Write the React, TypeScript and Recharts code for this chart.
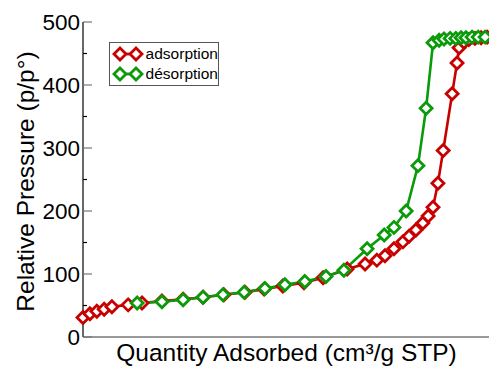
import { LineChart, Line, XAxis, YAxis, Legend, Label } from "recharts";

// x: position along the (unlabelled) quantity axis, 0-100
const adsX = [0, 1.7, 3.4, 5.2, 7.1, 11.1, 14.5, 19.4, 24.6, 29.5, 34.6, 39.8, 44.5, 49.1, 54.3, 59.0, 64.9, 69.3, 72.2, 74.2, 76.4, 78.6, 80.1, 81.8, 83.5, 84.8, 86.0, 87.2, 88.5, 90.7, 91.9, 92.4, 93.6, 94.8, 96.3, 97.8, 99.3];
const adsY = [31, 37, 41, 44, 48, 51, 54, 57, 60, 63, 67, 71, 76, 81, 86, 94, 108, 116, 122, 129, 140, 151, 160, 170, 181, 192, 206, 244, 296, 386, 435, 459, 468, 472, 474, 475, 476];

const desX = [13.3, 19.4, 24.6, 29.5, 34.4, 39.6, 44.7, 49.6, 54.5, 59.7, 64.1, 69.8, 74.0, 76.4, 79.4, 82.3, 84.3, 86.0, 87.5, 88.7, 90.2, 91.6, 92.9, 94.1, 95.6, 97.1, 98.8];
const desY = [54, 56, 59, 63, 67, 71, 77, 83, 88, 96, 106, 140, 162, 174, 200, 272, 363, 467, 471, 473, 474, 474, 475, 475, 476, 476, 476];

const yTicks = [0, 50, 100, 150, 200, 250, 300, 350, 400, 450, 500];

const RED = "#c80000";
const GREEN = "#0a9a0a";
const FONT = "'Liberation Sans', Arial, sans-serif";

const adsorption = adsX.map((x, i) => ({ x, y: adsY[i] }));
const desorption = desX.map((x, i) => ({ x, y: desY[i] }));

const Diamond = ({ cx, cy, color }: any) => (
  <path
    d={`M${cx},${cy - 6} L${cx + 6},${cy} L${cx},${cy + 6} L${cx - 6},${cy} Z`}
    fill="#fff"
    stroke={color}
    strokeWidth={2.8}
  />
);

const LeftTick = ({ x, y, payload }: any) => {
  const major = payload.value % 100 === 0;
  return (
    <g>
      {major && (
        <text x={x} y={y} dy="0.36em" textAnchor="end" fontSize={22.5} fontFamily={FONT} fill="#000">
          {payload.value}
        </text>
      )}
      <line x1={x + 3} x2={x + 3 + (major ? 9 : 4)} y1={y} y2={y} stroke={major ? "#777" : "#000"} strokeWidth={1.2} />
    </g>
  );
};

const RightTick = ({ x, y, payload }: any) => {
  const major = payload.value % 100 === 0;
  return <line x1={x - (major ? 8 : 4)} x2={x} y1={y} y2={y} stroke={major ? "#777" : "#000"} strokeWidth={1.2} />;
};

const renderLegend = (props: any) => (
  <div style={{ border: "1px solid #555", background: "#fff", width: 108, padding: "1px 0", fontFamily: FONT, fontSize: 15.5 }}>
    {props.payload.map((p: any) => (
      <div key={p.value} style={{ display: "flex", alignItems: "center", height: 20 }}>
        <svg width={36} height={16} style={{ marginLeft: 2 }}>
          <line x1={2} x2={30} y1={8} y2={8} stroke={p.color} strokeWidth={2.8} />
          <Diamond cx={8} cy={8} color={p.color} />
          <Diamond cx={24} cy={8} color={p.color} />
        </svg>
        <span>{p.value}</span>
      </div>
    ))}
  </div>
);

export default function App() {
  return (
    <div style={{ position: "absolute", left: 0, top: 0, background: "#fff" }}>
      <LineChart width={490} height={367} margin={{ top: 22, right: 0, bottom: 0, left: 0 }}>
        <XAxis xAxisId="b" type="number" dataKey="x" domain={[0, 100]} height={30} tick={false} tickLine={false} axisLine={{ stroke: "#777", strokeWidth: 1.5 }}>
          <Label value="Quantity Adsorbed (cm³/g STP)" position="insideBottom" offset={6} fontSize={24.5} fontFamily={FONT} fill="#000" />
        </XAxis>
        <XAxis xAxisId="t" orientation="top" type="number" dataKey="x" domain={[0, 100]} height={0} tick={false} tickLine={false} axisLine={{ stroke: "#777", strokeWidth: 1.5 }} />
        <YAxis yAxisId="l" type="number" domain={[0, 500]} ticks={yTicks} interval={0} width={83} tickSize={0} tickMargin={3} tickLine={false} tick={LeftTick} axisLine={{ stroke: "#000", strokeWidth: 1.2 }}>
          <Label
            content={({ viewBox }: any) => {
              const cx = viewBox.x + 25;
              const cy = viewBox.y + viewBox.height / 2 + 2;
              return (
                <text x={cx} y={cy} transform={`rotate(-90, ${cx}, ${cy})`} textAnchor="middle" dominantBaseline="central" fontSize={24.5} fontFamily={FONT} fill="#000">
                  Relative Pressure (p/p°)
                </text>
              );
            }}
          />
        </YAxis>
        <YAxis yAxisId="r" orientation="right" type="number" domain={[0, 500]} ticks={yTicks} interval={0} width={0} tickSize={0} tickMargin={0} tickLine={false} tick={RightTick} axisLine={false} />
        <Legend layout="vertical" align="center" verticalAlign="middle" content={renderLegend} wrapperStyle={{ left: 109, top: 42, width: 110 }} />
        <Line
          xAxisId="b" yAxisId="l" data={adsorption} dataKey="y" name="adsorption" stroke={RED} strokeWidth={2.6}
          isAnimationActive={false}
          dot={(p: any) => <Diamond key={`a${p.index}`} cx={p.cx} cy={p.cy} color={RED} />}
        />
        <Line
          xAxisId="b" yAxisId="l" data={desorption} dataKey="y" name="désorption" stroke={GREEN} strokeWidth={2.6}
          isAnimationActive={false}
          dot={(p: any) => <Diamond key={`d${p.index}`} cx={p.cx} cy={p.cy} color={GREEN} />}
        />
      </LineChart>
    </div>
  );
}
